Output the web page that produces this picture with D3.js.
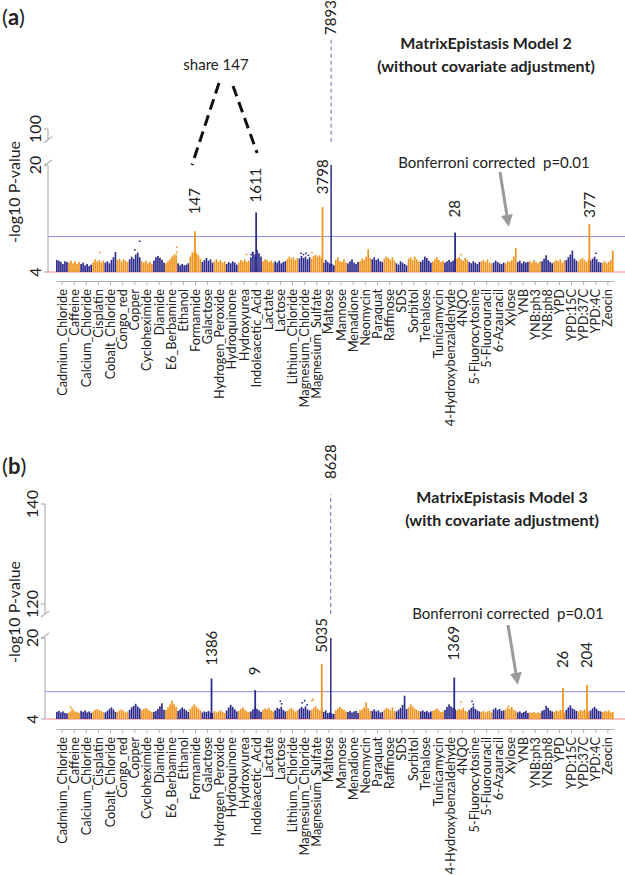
<!DOCTYPE html>
<html>
<head>
<meta charset="utf-8">
<script src="https://cdn.jsdelivr.net/npm/d3@7"></script>
<style>
  body { margin: 0; background: #fff; }
  svg { display: block; }
  text { font-family: Lato, "Open Sans", sans-serif; fill: #222; }
</style>
</head>
<body>
<svg id="chart" width="625" height="875"></svg>
<script>
// ---- data ----
const conditions = ["Cadmium_Chloride","Caffeine","Calcium_Chloride","Cisplatin","Cobalt_Chloride","Congo_red",
  "Copper","Cycloheximide","Diamide","E6_Berbamine","Ethanol","Formamide","Galactose","Hydrogen_Peroxide",
  "Hydroquinone","Hydroxyurea","Indoleacetic_Acid","Lactate","Lactose","Lithium_Chloride","Magnesium_Chloride",
  "Magnesium_Sulfate","Maltose","Mannose","Menadione","Neomycin","Paraquat","Raffinose","SDS","Sorbitol",
  "Trehalose","Tunicamycin","4-Hydroxybenzaldehyde","4NQO","5-Fluorocytosine","5-Fluorouracil","6-Azauracil",
  "Xylose","YNB","YNB:ph3","YNB:ph8","YPD","YPD:15C","YPD:37C","YPD:4C","Zeocin"];

// -log10 p profile of each condition (6 slices across the condition)
const profileA = [
  [5.8,5.7,5.5,5.2,5.6,5.5],[5.4,5.7,5.3,5.6,5.2,5.5],[5.2,5.4,5.0,5.2,4.9,5.1],[5.5,5.9,5.6,5.8,5.4,5.7],
  [5.4,5.6,5.3,5.8,6.2,7.0],[5.8,6.0,5.6,5.9,5.7,5.5],[5.9,6.3,6.0,6.6,6.9,6.2],[5.6,5.4,5.7,5.3,5.5,5.2],
  [5.7,6.2,6.4,6.1,5.8,5.4],[5.3,5.6,5.9,6.3,6.6,6.4],[5.3,5.0,5.2,5.0,5.1,5.3],[6.3,6.9,7.2,6.8,6.5,6.0],
  [5.5,5.8,6.1,5.7,5.9,5.4],[5.6,5.9,5.5,5.8,5.4,5.6],[5.2,5.5,5.3,5.6,5.4,5.1],[5.4,5.8,5.6,5.9,5.5,5.7],
  [6.2,7.0,6.6,7.3,6.8,6.3],[5.6,5.9,5.8,5.5,5.7,5.4],[5.6,5.4,5.7,5.3,5.5,5.6],[5.9,6.3,6.0,6.2,5.8,6.1],
  [6.0,6.4,6.1,6.3,5.9,6.2],[6.0,6.4,6.6,6.3,6.5,6.2],[5.4,5.8,5.5,5.3,5.2,5.0],[5.8,6.2,5.6,5.5,5.9,5.4],
  [5.3,5.6,5.9,5.4,5.2,5.5],[5.6,6.0,5.8,6.3,7.4,6.1],[5.9,6.2,5.8,6.0,5.6,5.5],[6.0,6.3,6.1,5.8,6.2,5.7],
  [5.3,5.1,5.6,5.4,5.2,5.0],[6.0,6.2,5.8,6.3,5.9,5.6],[5.5,5.8,6.3,6.1,5.7,5.4],[5.6,5.9,6.2,5.8,5.5,5.7],
  [5.4,5.6,5.8,5.5,5.7,6.0],[6.0,6.2,5.9,5.7,6.1,5.8],[5.5,5.3,5.6,5.4,5.2,5.5],[5.6,5.8,5.5,5.9,5.4,5.3],
  [5.4,5.7,5.5,5.3,5.2,5.4],[5.3,5.6,5.5,5.8,6.3,7.6],[5.5,5.7,5.3,5.6,5.4,5.5],[5.6,5.4,5.8,5.5,5.3,5.6],
  [5.6,6.0,6.5,5.8,5.5,5.3],[5.5,5.8,5.6,5.9,5.4,5.7],[5.8,6.2,6.6,7.2,6.0,5.7],[5.6,5.9,6.1,5.8,5.5,5.9],
  [5.7,6.0,6.3,5.9,5.5,5.4],[5.4,5.6,5.3,5.5,5.8,7.2]
];
const profileB = [
  [5.4,5.6,5.3,5.5,5.2,5.1],[5.3,5.6,5.8,5.5,5.4,5.2],[5.6,5.4,5.7,5.3,5.5,5.2],[5.5,5.8,6.0,5.7,5.6,5.4],
  [5.3,5.6,6.0,6.3,5.9,5.4],[5.4,5.7,5.9,5.6,5.3,5.5],[5.8,6.3,6.6,7.0,6.5,6.1],[5.7,6.0,6.2,5.9,5.6,5.4],
  [5.4,5.6,6.0,6.5,7.1,5.8],[5.8,6.3,6.9,7.6,7.0,6.4],[5.6,5.9,6.3,6.0,5.7,5.4],[6.0,6.5,6.9,6.4,6.1,5.7],
  [5.3,5.5,5.4,5.6,5.3,5.2],[5.6,5.3,5.5,5.7,5.4,5.2],[5.7,6.3,6.8,6.4,5.9,5.5],[5.6,6.0,6.3,5.8,5.5,5.4],
  [5.5,5.9,6.3,6.0,5.7,5.4],[5.8,6.1,5.9,6.2,5.7,5.5],[5.7,6.2,6.0,6.4,5.8,5.5],[5.6,5.9,6.2,5.8,5.5,5.7],
  [6.0,6.4,6.1,6.5,5.9,5.7],[5.8,6.2,6.5,6.0,5.7,6.3],[5.4,5.7,5.2,5.3,5.1,5.0],[5.7,6.1,6.4,6.0,5.8,5.5],
  [5.4,5.6,5.3,5.5,5.6,5.2],[5.7,5.9,6.3,7.3,6.1,5.6],[5.6,5.9,5.5,5.7,5.3,5.4],[5.8,6.2,6.0,5.7,6.3,5.6],
  [5.5,5.8,6.2,6.8,8.6,6.0],[6.3,6.9,6.5,6.1,5.8,5.6],[5.5,5.7,5.4,5.6,5.3,5.5],[5.6,5.8,6.1,5.7,5.4,5.5],
  [5.8,6.4,6.9,6.5,6.2,5.9],[5.7,6.0,5.8,6.2,5.6,5.5],[5.8,6.2,6.5,6.0,5.7,5.5],[5.4,5.6,5.3,5.5,5.7,5.3],
  [5.9,6.2,5.8,6.0,5.6,5.7],[5.9,6.3,6.0,6.4,5.8,5.6],[5.3,5.5,5.2,5.4,5.6,5.2],[5.3,5.2,5.4,5.1,5.3,5.2],
  [5.6,5.8,6.6,6.2,5.7,5.5],[5.4,5.7,5.5,5.8,5.6,5.3],[5.8,6.3,6.7,6.1,5.9,5.6],[5.5,5.8,5.6,5.9,5.4,5.5],
  [5.7,6.1,6.4,6.0,5.6,5.5],[5.4,5.6,5.5,5.7,5.3,5.4]
];

// significant peaks: condition, place inside the condition (0..1), -log10 p, number of pairs
const peaksA = [
  {cat: "Formamide", at: 0.46, value: 10.1, label: "147"},
  {cat: "Indoleacetic_Acid", at: 0.5, value: 12.9, label: "1611"},
  {cat: "Magnesium_Sulfate", at: 0.97, value: 13.7, label: "3798"},
  {cat: "4-Hydroxybenzaldehyde", at: 0.9, value: 9.9, label: "28"},
  {cat: "YPD:37C", at: 0.97, value: 11.2, label: "377"}
];
const peaksB = [
  {cat: "Galactose", at: 0.82, value: 12.0, label: "1386"},
  {cat: "Indoleacetic_Acid", at: 0.42, value: 9.7, label: "9"},
  {cat: "Magnesium_Sulfate", at: 0.91, value: 14.9, label: "5035"},
  {cat: "4-Hydroxybenzaldehyde", at: 0.83, value: 12.2, label: "1369"},
  {cat: "YPD", at: 0.8, value: 10.1, label: "26"},
  {cat: "YPD:37C", at: 0.78, value: 10.7, label: "204"}
];
// Maltose runs past the axis break: [low, high] on the upper segment
const maltoseA = {cat: "Maltose", at: 0.68, upper: [97.4, 118.8], label: "7893"};
const maltoseB = {cat: "Maltose", at: 0.65, upper: [118, 142], label: "8628"};

// stray points above the clusters
const dotsA = [
  ["Cisplatin",0.6,6.9],["Copper",0.5,7.3],["Copper",0.9,8.6],["E6_Berbamine",0.95,7.7],["E6_Berbamine",0.95,7.0],
  ["E6_Berbamine",0.9,6.6],["Hydroxyurea",0.7,6.6],["Indoleacetic_Acid",0.1,6.6],["Indoleacetic_Acid",0.2,6.9],
  ["Magnesium_Chloride",0.2,6.8],["Magnesium_Chloride",0.4,6.6],["Magnesium_Chloride",0.6,6.8],
  ["Magnesium_Chloride",0.8,6.5],["Magnesium_Sulfate",0.1,6.9],["4NQO",0.4,6.6],["YPD:4C",0.5,6.8]
];
const dotsB = [
  ["Caffeine",0.2,6.4],["Caffeine",0.3,6.0],["Lactose",0.5,7.5],["Lactose",0.6,7.0],["Magnesium_Chloride",0.3,7.2],
  ["Magnesium_Chloride",0.5,7.6],["Magnesium_Chloride",0.7,6.8],["Magnesium_Sulfate",0.1,7.6],["Magnesium_Sulfate",0.2,7.9],
  ["4NQO",0.4,7.3],["5-Fluorocytosine",0.3,7.5],["5-Fluorocytosine",0.4,6.9],["Xylose",0.3,6.5]
];

const thresholdA = 9.3, thresholdB = 9.4;

// ---- layout ----
const blue = "#2e2c8c", orange = "#f0951f";
const svg = d3.select("#chart");

const x = d3.scaleBand().domain(conditions).range([56, 614]).padding(0);

const panels = [
  {
    tag: "a", profile: profileA, peaks: peaksA, maltose: maltoseA, dots: dotsA, threshold: thresholdA,
    axisX: 48, lower: d3.scaleLinear().domain([4, 20]).range([272, 165]),
    upper: d3.scaleLinear().domain([100, 120]).range([129, 31]), upperTicks: [100], upperAxis: [97.8, 100],
    xAxisY: 281, tagY: 17, title: ["MatrixEpistasis Model 2", "(without covariate adjustment)"], titleX: 486, titleY: 43,
    yLabelY: 192, bonfX: 494, bonfY: 163, arrow: [[500, 172], [508, 230]],
    lift: {"147": 17, "1611": 10, "3798": 13, "28": 15, "377": 6, "7893": 2}
  },
  {
    tag: "b", profile: profileB, peaks: peaksB, maltose: maltoseB, dots: dotsB, threshold: thresholdB,
    axisX: 45, lower: d3.scaleLinear().domain([4, 20]).range([719, 638]),
    upper: d3.scaleLinear().domain([120, 140]).range([604, 504]), upperTicks: [120, 140], upperAxis: [118, 140],
    xAxisY: 729, tagY: 466, title: ["MatrixEpistasis Model 3", "(with covariate adjustment)"], titleX: 502, titleY: 497,
    yLabelY: 612, bonfX: 508, bonfY: 614, arrow: [[508, 625], [517, 688]],
    lift: {"1386": 13, "9": 15, "5035": 11, "1369": 17, "26": 20, "204": 17, "8628": 15}
  }
];

svg.append("defs").append("marker")
  .attr("id", "head").attr("viewBox", "0 0 10 10").attr("refX", 6).attr("refY", 5)
  .attr("markerWidth", 4).attr("markerHeight", 4).attr("orient", "auto")
  .append("path").attr("d", "M0,0 L10,5 L0,10 z").attr("fill", "#9a9a9a");

panels.forEach(p => {
  const g = svg.append("g");
  const y = p.lower;
  const bw = x.bandwidth();
  const base = y(4);

  // panel tag
  const tag = g.append("text").attr("x", 2).attr("y", p.tagY).attr("dy", "0.35em").attr("font-size", 22).attr("fill", "#111");
  tag.append("tspan").text("(");
  tag.append("tspan").attr("font-weight", "bold").text(p.tag);
  tag.append("tspan").text(")");

  // title
  p.title.forEach((t, i) => {
    g.append("text").attr("x", p.titleX).attr("y", p.titleY + i * 23).attr("dy", "0.35em")
      .attr("text-anchor", "middle").attr("font-size", 16).attr("font-weight", "bold").attr("fill", "#111").text(t);
  });

  // baseline
  g.append("line").attr("x1", p.axisX).attr("x2", 625).attr("y1", base).attr("y2", base)
    .attr("stroke", "#f08080").attr("stroke-width", 1);

  // manhattan clusters (thin slices with a hairline seam, like packed vertical lines)
  const cl = g.append("g");
  conditions.forEach((c, i) => {
    const col = i % 2 === 0 ? blue : orange;
    cl.selectAll(null).data(p.profile[i]).enter().append("rect")
      .attr("x", (d, j) => x(c) + j * bw / 6)
      .attr("width", bw / 6 - 0.35)
      .attr("y", d => y(d))
      .attr("height", d => base - y(d))
      .attr("fill", col);
  });

  // stray points
  g.selectAll(null).data(p.dots).enter().append("rect")
    .attr("x", d => x(d[0]) + d[1] * bw - 0.8).attr("y", d => y(d[2]) - 0.8)
    .attr("width", 1.6).attr("height", 1.6)
    .attr("fill", d => conditions.indexOf(d[0]) % 2 === 0 ? blue : orange);

  // threshold
  g.append("line").attr("x1", p.axisX).attr("x2", 625).attr("y1", y(p.threshold)).attr("y2", y(p.threshold))
    .attr("stroke", "#8c8ce0").attr("stroke-width", 1);

  // peaks
  const colorOf = c => conditions.indexOf(c) % 2 === 0 ? blue : orange;
  p.peaks.forEach(d => {
    const px = x(d.cat) + d.at * bw;
    g.append("line").attr("x1", px).attr("x2", px).attr("y1", base).attr("y2", y(Math.min(d.value, 20)))
      .attr("stroke", colorOf(d.cat)).attr("stroke-width", 1.8);
    g.append("text").attr("transform", `translate(${px},${y(d.value) - p.lift[d.label]}) rotate(-90)`)
      .attr("dy", "0.35em").attr("font-size", 15).text(d.label);
  });

  // maltose across the break
  const m = p.maltose, mx = x(m.cat) + m.at * bw;
  g.append("line").attr("x1", mx).attr("x2", mx).attr("y1", base).attr("y2", y(20))
    .attr("stroke", blue).attr("stroke-width", 1.5);
  g.append("line").attr("x1", mx).attr("x2", mx).attr("y1", p.upper(m.upper[0])).attr("y2", p.upper(m.upper[1]))
    .attr("stroke", blue).attr("stroke-width", 1).attr("stroke-dasharray", "4,3").attr("opacity", 0.7);
  g.append("text").attr("transform", `translate(${mx},${p.upper(m.upper[1]) - p.lift[m.label]}) rotate(-90)`)
    .attr("dy", "0.35em").attr("font-size", 15).text(m.label);

  // y axis (broken)
  const ax = g.append("g").attr("stroke", "#b0b0b0").attr("stroke-width", 1.2).attr("fill", "none");
  ax.append("line").attr("x1", p.axisX).attr("x2", p.axisX).attr("y1", y(20)).attr("y2", base);
  ax.append("line").attr("x1", p.axisX).attr("x2", p.axisX)
    .attr("y1", p.upper(p.upperAxis[1])).attr("y2", p.upper(p.upperAxis[0]));
  [p.upper(p.upperAxis[0]), y(20) - 2].forEach(sy => {
    ax.append("line").attr("x1", p.axisX - 4).attr("x2", p.axisX + 4).attr("y1", sy + 3).attr("y2", sy - 3);
  });
  [y(20), base].forEach(ty => ax.append("line").attr("x1", p.axisX - 4).attr("x2", p.axisX).attr("y1", ty).attr("y2", ty));
  p.upperTicks.forEach(t => ax.append("line").attr("x1", p.axisX - 4).attr("x2", p.axisX).attr("y1", p.upper(t)).attr("y2", p.upper(t)));

  const tickLabels = [[4, base], [20, y(20)]].concat(p.upperTicks.map(t => [t, p.upper(t)]));
  tickLabels.forEach(([v, ty]) => {
    g.append("text").attr("transform", `translate(${p.axisX - 13},${ty}) rotate(-90)`)
      .attr("text-anchor", "middle").attr("dy", "0.35em").attr("font-size", 16).text(v);
  });
  g.append("text").attr("transform", `translate(14,${p.yLabelY}) rotate(-90)`)
    .attr("text-anchor", "middle").attr("dy", "0.35em").attr("font-size", 16).text("-log10 P-value");

  // x axis with condition names
  const xa = g.append("g").attr("transform", `translate(0,${p.xAxisY})`)
    .call(d3.axisBottom(x).tickSize(4).tickSizeOuter(0));
  xa.select(".domain").attr("stroke", "#b0b0b0");
  xa.selectAll(".tick line").attr("stroke", "#b0b0b0");
  xa.selectAll(".tick text")
    .attr("font-family", "Lato, 'Open Sans', sans-serif").attr("font-size", 12.8).attr("fill", "#222")
    .attr("text-anchor", "end").attr("transform", "rotate(-90)")
    .attr("x", -8).attr("y", 0).attr("dy", "0.35em");

  // Bonferroni annotation
  g.append("text").attr("x", p.bonfX).attr("y", p.bonfY).attr("dy", "0.35em").attr("text-anchor", "middle")
    .attr("font-size", 15).attr("fill", "#333").text("Bonferroni corrected\u00a0\u00a0p=0.01");
  g.append("line").attr("x1", p.arrow[0][0]).attr("y1", p.arrow[0][1]).attr("x2", p.arrow[1][0]).attr("y2", p.arrow[1][1] - 8)
    .attr("stroke", "#9a9a9a").attr("stroke-width", 3).attr("marker-end", "url(#head)");
});

// "share 147" callout in panel (a)
const shareFrom = [x("Formamide") + 0.46 * x.bandwidth(), x("Indoleacetic_Acid") + 0.5 * x.bandwidth()];
svg.append("text").attr("x", 216).attr("y", 65).attr("dy", "0.35em").attr("text-anchor", "middle")
  .attr("font-size", 15).text("share 147");
svg.append("line").attr("x1", 219).attr("y1", 83).attr("x2", shareFrom[0] - 3).attr("y2", 165)
  .attr("stroke", "#111").attr("stroke-width", 3).attr("stroke-dasharray", "11,6");
svg.append("line").attr("x1", 233).attr("y1", 86).attr("x2", shareFrom[1] + 1).attr("y2", 153)
  .attr("stroke", "#111").attr("stroke-width", 3).attr("stroke-dasharray", "11,6");
</script>
</body>
</html>
